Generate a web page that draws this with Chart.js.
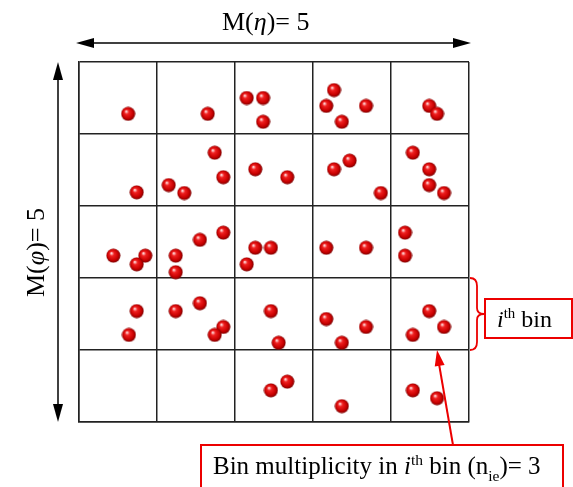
<!DOCTYPE html>
<html>
<head>
<meta charset="utf-8">
<script src="https://cdn.jsdelivr.net/npm/chart.js@4/dist/chart.umd.min.js"></script>
<style>
body{margin:0;background:#fff;}
#wrap{width:573px;height:487px;position:relative;}
</style>
</head>
<body>
<div id="wrap"><canvas id="grid"></canvas></div>
<script>

// bins along eta (x) and phi (y), 0..5
const binEdges = [0,1,2,3,4,5];

// particle positions
const etaValues = [
    0.63,1.65,2.15,2.36,2.36,3.27,3.17,3.68,3.37,4.49,4.59,
    0.74,1.74,1.85,1.15,1.35,2.26,2.67,3.27,3.47,3.87,4.28,4.49,4.49,4.68,
    0.44,0.85,0.74,1.24,1.24,1.55,1.85,2.26,2.46,2.15,3.17,3.68,4.18,4.18,
    0.74,0.64,1.24,1.55,1.85,1.74,2.46,2.56,3.17,3.68,3.37,4.49,4.68,4.28,
    2.46,2.67,3.37,4.28,4.59
];

const phiValues = [
    4.28,4.28,4.50,4.50,4.17,4.61,4.39,4.39,4.17,4.39,4.28,
    3.19,3.74,3.40,3.29,3.18,3.51,3.40,3.51,3.63,3.18,3.74,3.51,3.29,3.18,
    2.31,2.31,2.19,2.31,2.08,2.53,2.63,2.42,2.42,2.19,2.42,2.42,2.63,2.31,
    1.54,1.21,1.54,1.65,1.32,1.21,1.54,1.10,1.43,1.32,1.10,1.54,1.32,1.21,
    0.44,0.56,0.22,0.44,0.33
];

// the highlighted bin (column, row counted from bottom-left)
const ithBin = {eta:4, phi:1};

const points = etaValues.map((x,i)=>({x:x, y:phiValues[i]}));

const RED = "#ec0000";

function makeBall(){

    const c = document.createElement("canvas");
    c.width = 15;
    c.height = 15;
    const g = c.getContext("2d");

    const grad = g.createRadialGradient(5.5,5,0.5,7.5,7.5,7.5);
    grad.addColorStop(0,"#ffd6d6");
    grad.addColorStop(0.25,"#f02020");
    grad.addColorStop(0.7,"#c80000");
    grad.addColorStop(1,"#6a0000");

    g.fillStyle = grad;
    g.beginPath();
    g.arc(7.5,7.5,7,0,Math.PI*2);
    g.fill();

    return c;
}

function arrowHead(ctx,x,y,angle,len,half){

    ctx.save();
    ctx.translate(x,y);
    ctx.rotate(angle);
    ctx.beginPath();
    ctx.moveTo(0,0);
    ctx.lineTo(-len,-half);
    ctx.lineTo(-len,half);
    ctx.closePath();
    ctx.fill();
    ctx.restore();
}

// draws text made of pieces: {t, italic, sup, sub}
function richText(ctx,parts,x,y,size){

    let cx = x;

    parts.forEach(p=>{

        let fs = size;
        let dy = 0;

        if(p.sup){ fs = size*0.62; dy = -size*0.38; }
        if(p.sub){ fs = size*0.62; dy = size*0.28; }

        ctx.font = (p.italic ? "italic " : "") + fs + "px 'Liberation Serif'";
        ctx.fillText(p.t,cx,y+dy);
        cx += ctx.measureText(p.t).width;
    });
}

const annotations = {

    id:"annotations",

    afterDraw(chart){

        const ctx = chart.ctx;
        const a = chart.chartArea;
        const xs = chart.scales.x;
        const ys = chart.scales.y;

        ctx.save();
        ctx.fillStyle = "#000";
        ctx.strokeStyle = "#000";
        ctx.textBaseline = "alphabetic";
        ctx.textAlign = "left";

        // eta arrow
        const ty = 43;
        ctx.lineWidth = 1.5;
        ctx.beginPath();
        ctx.moveTo(a.left+10,ty);
        ctx.lineTo(a.right-10,ty);
        ctx.stroke();
        arrowHead(ctx,a.left-3,ty,Math.PI,18,5);
        arrowHead(ctx,a.right+2,ty,0,18,5);

        richText(ctx,[
            {t:"M("},
            {t:"\u03B7",italic:true},
            {t:")= 5"}
        ],222,30,26);

        // phi arrow
        const lx = 58;
        ctx.beginPath();
        ctx.moveTo(lx,a.top+10);
        ctx.lineTo(lx,a.bottom-10);
        ctx.stroke();
        arrowHead(ctx,lx,a.top,-Math.PI/2,18,5);
        arrowHead(ctx,lx,a.bottom,Math.PI/2,18,5);

        ctx.save();
        ctx.translate(44,297);
        ctx.rotate(-Math.PI/2);
        richText(ctx,[
            {t:"M("},
            {t:"\u03C6",italic:true},
            {t:")= 5"}
        ],0,0,26);
        ctx.restore();

        // brace and label for the i-th bin
        const bTop = ys.getPixelForValue(ithBin.phi+1);
        const bBot = ys.getPixelForValue(ithBin.phi);
        const bMid = (bTop+bBot)/2;
        const x0 = a.right+1;
        const x1 = a.right+8;
        const x2 = a.right+15;

        ctx.strokeStyle = RED;
        ctx.fillStyle = RED;
        ctx.lineWidth = 1.8;
        ctx.beginPath();
        ctx.moveTo(x0,bTop);
        ctx.quadraticCurveTo(x1,bTop,x1,bTop+8);
        ctx.lineTo(x1,bMid-6);
        ctx.quadraticCurveTo(x1,bMid,x2,bMid);
        ctx.quadraticCurveTo(x1,bMid,x1,bMid+6);
        ctx.lineTo(x1,bBot-8);
        ctx.quadraticCurveTo(x1,bBot,x0,bBot);
        ctx.stroke();

        ctx.lineWidth = 2;
        ctx.strokeRect(485,299,87,39);

        ctx.fillStyle = "#000";
        richText(ctx,[
            {t:"i",italic:true},
            {t:"th",sup:true},
            {t:" bin"}
        ],497,327,24);

        // arrow from the multiplicity box to the bin
        const tipX = xs.getPixelForValue(ithBin.eta+0.59);
        const tipY = bBot;
        const fromX = 453;
        const fromY = 445;

        ctx.strokeStyle = RED;
        ctx.fillStyle = RED;
        ctx.lineWidth = 2;
        ctx.beginPath();
        ctx.moveTo(fromX,fromY);
        ctx.lineTo(tipX+2,tipY+14);
        ctx.stroke();
        arrowHead(ctx,tipX,tipY,Math.atan2(tipY-fromY,tipX-fromX),16,5);

        ctx.strokeRect(201,445,362,60);

        ctx.fillStyle = "#000";
        richText(ctx,[
            {t:"Bin multiplicity in "},
            {t:"i",italic:true},
            {t:"th",sup:true},
            {t:" bin (n"},
            {t:"ie",sub:true},
            {t:")= 3"}
        ],213,474,25);

        ctx.restore();
    }
};

const ball = makeBall();

new Chart(

document.getElementById("grid"),

{
    type:"scatter",

    data:{
        datasets:[{
            label:"particles",
            data:points,
            pointStyle:ball,
            pointRadius:7,
            pointHoverRadius:7
        }]
    },

    options:{
        responsive:true,
        maintainAspectRatio:false,
        animation:false,
        events:[],
        layout:{
            padding:{left:79,right:104,top:62,bottom:65}
        },
        plugins:{
            legend:{display:false},
            tooltip:{enabled:false}
        },
        scales:{
            x:{
                type:"linear",
                min:binEdges[0],
                max:binEdges[binEdges.length-1],
                ticks:{display:false,stepSize:1},
                grid:{color:"#222",lineWidth:1.5,drawTicks:false},
                border:{color:"#222",width:1.5}
            },
            y:{
                type:"linear",
                min:binEdges[0],
                max:binEdges[binEdges.length-1],
                ticks:{display:false,stepSize:1},
                grid:{color:"#222",lineWidth:1.5,drawTicks:false},
                border:{color:"#222",width:1.5}
            }
        }
    },

    plugins:[annotations]
});
</script>
</body>
</html>
